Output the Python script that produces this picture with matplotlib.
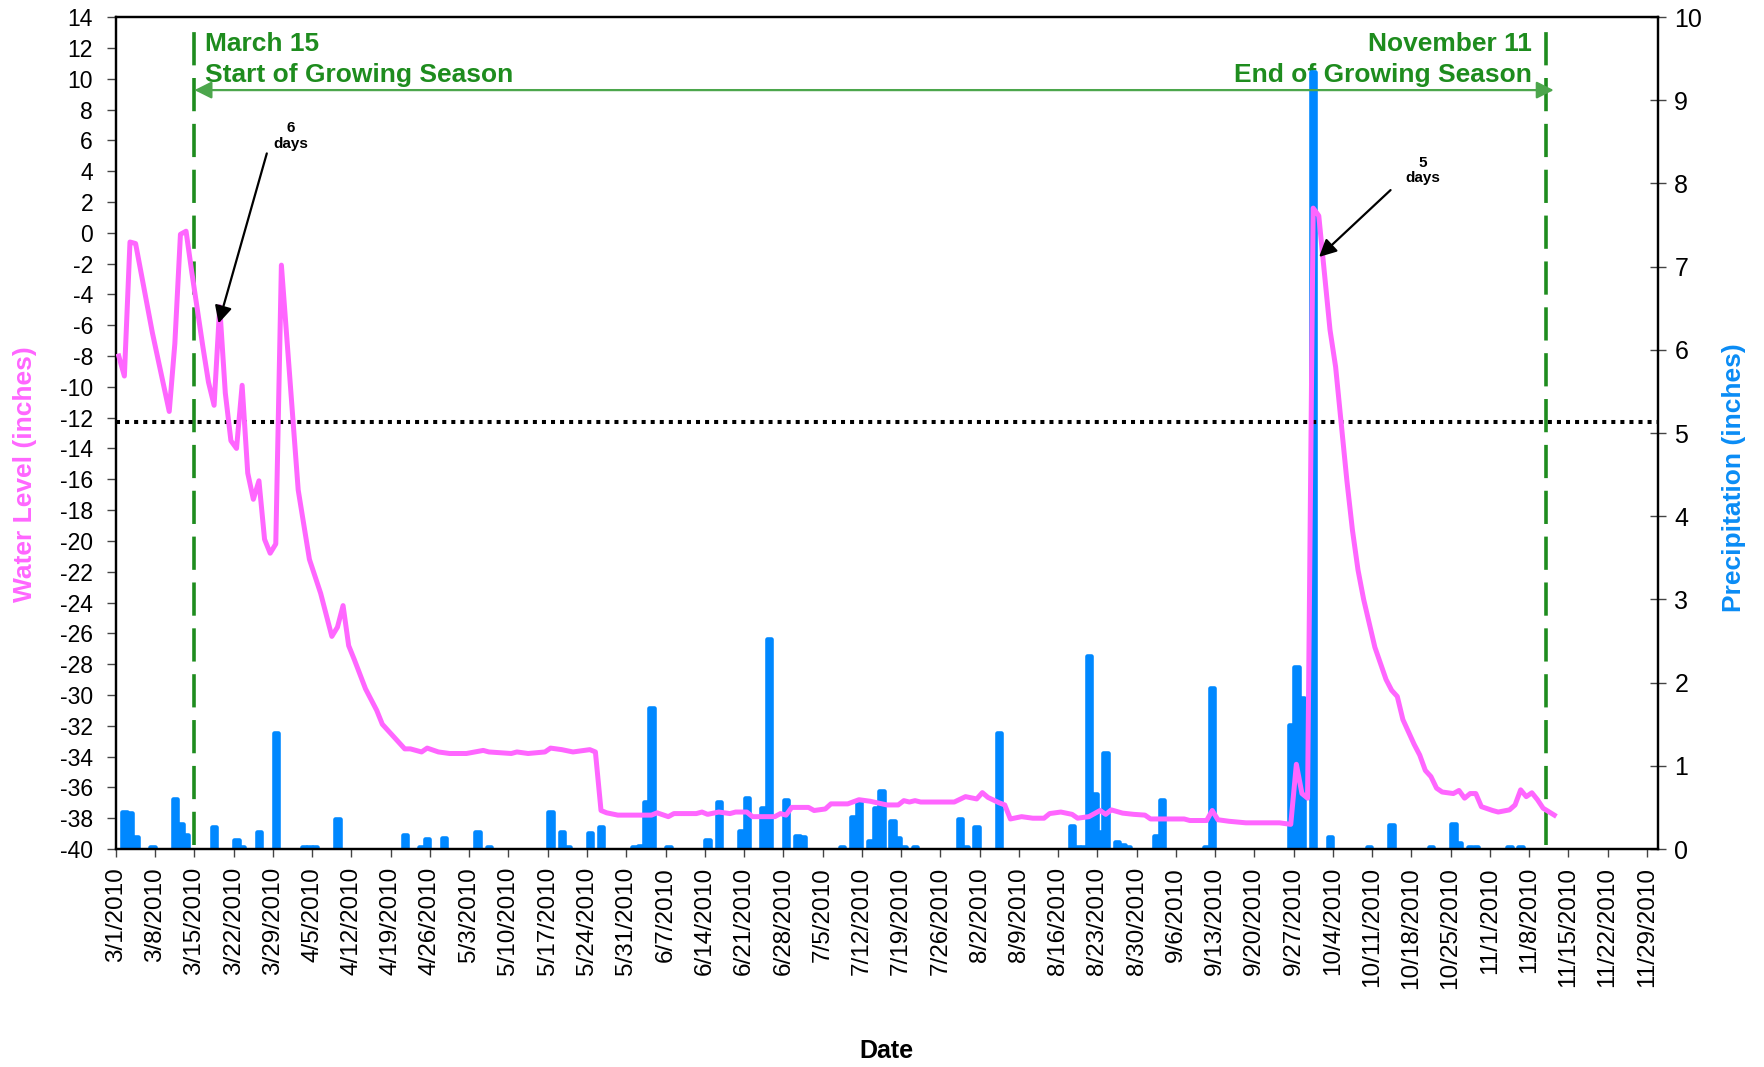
import matplotlib
matplotlib.use("Agg")
import matplotlib.pyplot as plt
import matplotlib.dates as mdates
import pandas as pd

plt.rcParams['font.family'] = ['Liberation Sans', 'DejaVu Sans']
plt.rcParams['axes.unicode_minus'] = False

# daily water level readings (inches)
level_dates = ['3/1', '3/2', '3/3', '3/4', '3/7', '3/10', '3/11', '3/12', '3/13', '3/14',
               '3/16', '3/17', '3/18', '3/19', '3/20', '3/21', '3/22', '3/23', '3/24', '3/25',
               '3/26', '3/27', '3/28', '3/29', '3/30', '4/2', '4/4', '4/6', '4/8', '4/9',
               '4/10', '4/11', '4/12', '4/14', '4/16', '4/17', '4/19', '4/21', '4/22', '4/24',
               '4/25', '4/27', '4/29', '5/2', '5/5', '5/6', '5/10', '5/11', '5/13', '5/16',
               '5/17', '5/19', '5/21', '5/24', '5/25', '5/26', '5/27', '5/29', '6/4', '6/5',
               '6/7', '6/8', '6/12', '6/13', '6/14', '6/16', '6/18', '6/19', '6/21', '6/22',
               '6/26', '6/27', '6/28', '6/29', '7/2', '7/3', '7/5', '7/6', '7/9', '7/11',
               '7/13', '7/16', '7/18', '7/19', '7/20', '7/21', '7/22', '7/28', '7/30', '8/1',
               '8/2', '8/3', '8/5', '8/6', '8/7', '8/9', '8/11', '8/13', '8/14', '8/16',
               '8/18', '8/19', '8/21', '8/23', '8/24', '8/25', '8/27', '8/29', '8/31', '9/1',
               '9/7', '9/8', '9/11', '9/12', '9/13', '9/15', '9/18', '9/24', '9/26', '9/27',
               '9/28', '9/29', '9/30', '10/1', '10/3', '10/4', '10/5', '10/6', '10/7', '10/8',
               '10/9', '10/11', '10/13', '10/14', '10/15', '10/16', '10/18', '10/19', '10/20', '10/21',
               '10/22', '10/23', '10/25', '10/26', '10/27', '10/28', '10/29', '10/30', '11/1', '11/2',
               '11/4', '11/5', '11/6', '11/7', '11/8', '11/9', '11/10', '11/12']
level_vals = [-8.0, -9.3, -0.6, -0.7, -6.5, -11.6, -7.2, -0.1, 0.1, -2.5,
              -7.4, -9.7, -11.2, -4.8, -10.4, -13.5, -14.0, -9.9, -15.6, -17.3,
              -16.1, -19.9, -20.8, -20.2, -2.1, -16.7, -21.2, -23.4, -26.2, -25.6,
              -24.2, -26.8, -27.7, -29.6, -31.0, -31.9, -32.7, -33.5, -33.5, -33.7,
              -33.45, -33.7, -33.8, -33.8, -33.6, -33.7, -33.8, -33.7, -33.8, -33.7,
              -33.45, -33.55, -33.7, -33.55, -33.7, -37.5, -37.65, -37.8, -37.8, -37.65,
              -37.9, -37.7, -37.7, -37.6, -37.75, -37.6, -37.7, -37.6, -37.6, -37.9,
              -37.9, -37.7, -37.8, -37.3, -37.3, -37.5, -37.4, -37.07, -37.07, -36.8,
              -36.9, -37.14, -37.14, -36.86, -36.95, -36.86, -36.95, -36.95, -36.6, -36.75,
              -36.34, -36.65, -37.0, -37.14, -38.05, -37.9, -38.0, -38.0, -37.7, -37.6,
              -37.75, -38.0, -37.9, -37.5, -37.75, -37.46, -37.67, -37.75, -37.8, -38.05,
              -38.05, -38.15, -38.15, -37.5, -38.1, -38.2, -38.3, -38.3, -38.4, -34.5,
              -36.4, -36.7, 1.6, 1.1, -6.3, -8.7, -12.4, -16.05, -19.3, -21.9,
              -23.8, -26.9, -29.0, -29.7, -30.1, -31.6, -33.2, -33.9, -34.9, -35.3,
              -36.05, -36.3, -36.4, -36.2, -36.7, -36.4, -36.4, -37.25, -37.5, -37.6,
              -37.46, -37.14, -36.16, -36.6, -36.35, -36.8, -37.35, -37.8]

# daily precipitation (inches)
rain_dates = ['3/2', '3/3', '3/4', '3/7', '3/11', '3/12', '3/13', '3/18', '3/22', '3/23',
              '3/26', '3/29', '4/3', '4/4', '4/5', '4/9', '4/21', '4/24', '4/25', '4/28',
              '5/4', '5/6', '5/17', '5/19', '5/20', '5/24', '5/26', '6/1', '6/2', '6/3',
              '6/4', '6/7', '6/14', '6/16', '6/20', '6/21', '6/24', '6/25', '6/28', '6/30',
              '7/1', '7/8', '7/10', '7/11', '7/13', '7/14', '7/15', '7/17', '7/18', '7/19',
              '7/21', '7/29', '7/30', '8/1', '8/5', '8/18', '8/19', '8/20', '8/21', '8/22',
              '8/23', '8/24', '8/26', '8/27', '8/28', '9/2', '9/3', '9/11', '9/12', '9/26',
              '9/27', '9/28', '9/30', '10/3', '10/10', '10/14', '10/21', '10/25', '10/26', '10/28',
              '10/29', '11/4', '11/6']
rain_vals = [0.44, 0.43, 0.14, 0.02, 0.60, 0.30, 0.17, 0.26, 0.11, 0.02,
             0.20, 1.39, 0.02, 0.02, 0.02, 0.36, 0.17, 0.02, 0.12, 0.13,
             0.21, 0.02, 0.45, 0.21, 0.02, 0.19, 0.26, 0.02, 0.04, 0.57,
             1.69, 0.02, 0.11, 0.57, 0.22, 0.61, 0.49, 2.52, 0.59, 0.16,
             0.14, 0.02, 0.39, 0.57, 0.10, 0.49, 0.70, 0.34, 0.13, 0.02,
             0.02, 0.36, 0.02, 0.26, 1.40, 0.28, 0.03, 0.03, 2.32, 0.66,
             0.20, 1.16, 0.08, 0.05, 0.02, 0.16, 0.59, 0.02, 1.94, 1.49,
             2.19, 1.81, 9.34, 0.15, 0.02, 0.29, 0.02, 0.30, 0.07, 0.02,
             0.02, 0.02, 0.02]

threshold = -12.3
season_start = '3/15'
season_end = '11/11'


def to_dt(days):
    return pd.to_datetime([d + '/2010' for d in days], format='%m/%d/%Y')


half_day = pd.Timedelta(hours=12)
lvl_x = to_dt(level_dates) + half_day
rain_x = to_dt(rain_dates) + half_day
start_dt = to_dt([season_start])[0]
end_dt = to_dt([season_end])[0]
day0 = mdates.date2num(pd.Timestamp('2010-03-01'))

pink = '#FF66FF'
blue = '#0088FF'
green = '#1E8C1E'
arrow_green = '#4CA64C'

fig = plt.figure(figsize=(17.65, 10.67), dpi=100)
ax1 = fig.add_axes([0.0657, 0.2043, 0.8737, 0.7797])
ax2 = ax1.twinx()
ax1.set_zorder(ax2.get_zorder() + 1)
ax1.patch.set_visible(False)

# precipitation bars on the right axis
ax2.bar(rain_x, rain_vals, width=0.8, color=blue, edgecolor=blue,
        linewidth=3.3, joinstyle='round', zorder=2)
ax2.set_ylim(0, 10)
ax2.set_yticks(range(0, 11))
ax2.set_ylabel('Precipitation (inches)', color='#0A8CF5', fontsize=19,
               fontweight='bold')
ax2.yaxis.set_label_coords(1.0415, 0.446)
ax2.tick_params(axis='y', direction='inout', length=11.5, width=1,
                labelsize=18, pad=6, color='#444444')

# water level line
ax1.plot(lvl_x, level_vals, color=pink, lw=3.6, solid_joinstyle='round',
         zorder=5)
ax1.set_ylim(-40, 14)
ax1.set_yticks(range(-40, 15, 2))
ax1.set_ylabel('Water Level (inches)', color=pink, fontsize=19,
               fontweight='bold')
ax1.yaxis.set_label_coords(-0.0515, 0.451)
ax1.tick_params(axis='y', direction='out', length=6.5, width=1,
                labelsize=16.5, pad=10, color='#444444')

ticks = pd.date_range('2010-03-01', '2010-11-29', freq='7D')
ax1.set_xticks(ticks)
ax1.set_xticklabels([f'{t.month}/{t.day}/{t.year}' for t in ticks],
                    rotation=90, fontsize=17.5)
ax1.tick_params(axis='x', direction='out', length=6, width=1, pad=7,
                color='#444444')
ax1.set_xlim(pd.Timestamp('2010-03-01'), pd.Timestamp('2010-12-01'))
ax1.set_xlabel('Date', fontsize=18, fontweight='bold')
ax1.xaxis.set_label_coords(0.4994, -0.2285)

for ax in (ax1, ax2):
    for sp in ax.spines.values():
        sp.set_linewidth(1.6)
        sp.set_color('black')

# threshold line
ax1.axhline(threshold, color='black', lw=2.9, linestyle=(0, (1, 1.25)),
            dash_capstyle='butt', zorder=4)

# growing season boundaries
for d in (start_dt, end_dt):
    ax1.axvline(d, ymin=0.005, ymax=0.995, color=green, lw=2.6,
                linestyle=(0, (9.2, 3.5)), zorder=3)

ax1.annotate('', xy=(mdates.date2num(end_dt) + 1.4, 9.26),
             xytext=(mdates.date2num(start_dt), 9.26),
             arrowprops=dict(arrowstyle='<|-|>', color=arrow_green, lw=1.6,
                             mutation_scale=26, shrinkA=0, shrinkB=0),
             zorder=3)

txt = dict(color=green, fontsize=19, fontweight='bold', va='baseline', zorder=1,
           transform=ax2.transAxes)
ax2.text(0.0577, 0.959, 'March 15', ha='left', **txt)
ax2.text(0.0577, 0.9222, 'Start of Growing Season', ha='left', **txt)
ax2.text(0.918, 0.959, 'November 11', ha='right', **txt)
ax2.text(0.918, 0.9222, 'End of Growing Season', ha='right', **txt)

# days above threshold after each event
note = dict(fontsize=11, fontweight='bold', ha='center', va='center',
            linespacing=1.15, zorder=6)
ax1.text(day0 + 31.2, 6.27, '6\ndays', **note)
ax1.text(day0 + 233.1, 4.05, '5\ndays', **note)
black_arrow = dict(arrowstyle='-|>', color='black', lw=1.6, mutation_scale=26,
                   shrinkA=0, shrinkB=0)
ax1.annotate('', xy=(day0 + 18.3, -5.88), xytext=(day0 + 26.9, 5.15),
             arrowprops=black_arrow, zorder=6)
ax1.annotate('', xy=(day0 + 214.55, -1.57), xytext=(day0 + 227.3, 2.77),
             arrowprops=black_arrow, zorder=6)

fig.savefig('out.png', dpi=100)
